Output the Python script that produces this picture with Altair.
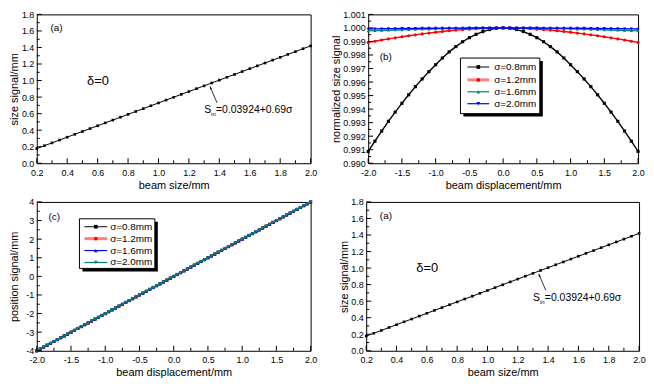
import altair as alt
import pandas as pd

FONT = "Liberation Sans"

# ---------------- data ----------------
beam_size = [0.20, 0.25, 0.30, 0.35, 0.40, 0.45, 0.50, 0.55, 0.60, 0.65, 0.70, 0.75,
             0.80, 0.85, 0.90, 0.95, 1.00, 1.05, 1.10, 1.15, 1.20, 1.25, 1.30, 1.35,
             1.40, 1.45, 1.50, 1.55, 1.60, 1.65, 1.70, 1.75, 1.80, 1.85, 1.90, 1.95, 2.00]
size_signal = [0.177, 0.212, 0.246, 0.281, 0.315, 0.350, 0.384, 0.419, 0.453, 0.488,
               0.522, 0.557, 0.591, 0.626, 0.660, 0.695, 0.729, 0.764, 0.798, 0.833,
               0.867, 0.902, 0.936, 0.971, 1.005, 1.040, 1.074, 1.109, 1.143, 1.178,
               1.212, 1.247, 1.281, 1.316, 1.350, 1.385, 1.419]

disp_b = [-2.0, -1.9, -1.8, -1.7, -1.6, -1.5, -1.4, -1.3, -1.2, -1.1, -1.0, -0.9, -0.8,
          -0.7, -0.6, -0.5, -0.4, -0.3, -0.2, -0.1, 0.0, 0.1, 0.2, 0.3, 0.4, 0.5, 0.6,
          0.7, 0.8, 0.9, 1.0, 1.1, 1.2, 1.3, 1.4, 1.5, 1.6, 1.7, 1.8, 1.9, 2.0]
norm_08 = [0.99087, 0.99163, 0.99238, 0.99310, 0.99378, 0.99443, 0.99506, 0.99566,
           0.99623, 0.99677, 0.99728, 0.99778, 0.99823, 0.99862, 0.99898, 0.99928,
           0.99953, 0.99973, 0.99988, 0.99997, 1.00000, 0.99997, 0.99988, 0.99973,
           0.99953, 0.99928, 0.99898, 0.99862, 0.99823, 0.99778, 0.99728, 0.99677,
           0.99623, 0.99566, 0.99506, 0.99443, 0.99378, 0.99310, 0.99238, 0.99163, 0.99087]
norm_12 = [0.99893, 0.99902, 0.99911, 0.99919, 0.99927, 0.99935, 0.99942, 0.99949,
           0.99956, 0.99962, 0.99968, 0.99974, 0.99979, 0.99984, 0.99988, 0.99991,
           0.99994, 0.99997, 0.99998, 1.00000, 1.00000, 1.00000, 0.99998, 0.99997,
           0.99994, 0.99991, 0.99988, 0.99984, 0.99979, 0.99974, 0.99968, 0.99962,
           0.99956, 0.99949, 0.99942, 0.99935, 0.99927, 0.99919, 0.99911, 0.99902, 0.99893]
norm_16 = [0.99978, 0.99980, 0.99981, 0.99983, 0.99985, 0.99986, 0.99988, 0.99989,
           0.99991, 0.99992, 0.99993, 0.99995, 0.99996, 0.99997, 0.99997, 0.99998,
           0.99999, 0.99999, 1.00000, 1.00000, 1.00000, 1.00000, 1.00000, 0.99999,
           0.99999, 0.99998, 0.99997, 0.99997, 0.99996, 0.99995, 0.99993, 0.99992,
           0.99991, 0.99989, 0.99988, 0.99986, 0.99985, 0.99983, 0.99981, 0.99980, 0.99978]
norm_20 = [0.99992, 0.99993, 0.99994, 0.99995, 0.99995, 0.99996, 0.99997, 0.99997,
           0.99998, 0.99998, 0.99998, 0.99999, 0.99999, 0.99999, 0.99999, 1.00000,
           1.00000, 1.00000, 1.00000, 1.00000, 1.00000, 1.00000, 1.00000, 1.00000,
           1.00000, 1.00000, 0.99999, 0.99999, 0.99999, 0.99999, 0.99998, 0.99998,
           0.99998, 0.99997, 0.99997, 0.99996, 0.99995, 0.99995, 0.99994, 0.99993, 0.99992]

disp_c = [-2.00, -1.95, -1.90, -1.85, -1.80, -1.75, -1.70, -1.65, -1.60, -1.55, -1.50,
          -1.45, -1.40, -1.35, -1.30, -1.25, -1.20, -1.15, -1.10, -1.05, -1.00, -0.95,
          -0.90, -0.85, -0.80, -0.75, -0.70, -0.65, -0.60, -0.55, -0.50, -0.45, -0.40,
          -0.35, -0.30, -0.25, -0.20, -0.15, -0.10, -0.05, 0.00, 0.05, 0.10, 0.15, 0.20,
          0.25, 0.30, 0.35, 0.40, 0.45, 0.50, 0.55, 0.60, 0.65, 0.70, 0.75, 0.80, 0.85,
          0.90, 0.95, 1.00, 1.05, 1.10, 1.15, 1.20, 1.25, 1.30, 1.35, 1.40, 1.45, 1.50,
          1.55, 1.60, 1.65, 1.70, 1.75, 1.80, 1.85, 1.90, 1.95, 2.00]
pos_signal = [-4.0, -3.9, -3.8, -3.7, -3.6, -3.5, -3.4, -3.3, -3.2, -3.1, -3.0, -2.9,
              -2.8, -2.7, -2.6, -2.5, -2.4, -2.3, -2.2, -2.1, -2.0, -1.9, -1.8, -1.7,
              -1.6, -1.5, -1.4, -1.3, -1.2, -1.1, -1.0, -0.9, -0.8, -0.7, -0.6, -0.5,
              -0.4, -0.3, -0.2, -0.1, 0.0, 0.1, 0.2, 0.3, 0.4, 0.5, 0.6, 0.7, 0.8, 0.9,
              1.0, 1.1, 1.2, 1.3, 1.4, 1.5, 1.6, 1.7, 1.8, 1.9, 2.0, 2.1, 2.2, 2.3, 2.4,
              2.5, 2.6, 2.7, 2.8, 2.9, 3.0, 3.1, 3.2, 3.3, 3.4, 3.5, 3.6, 3.7, 3.8, 3.9, 4.0]

sigma_labels = ["σ=0.8mm", "σ=1.2mm", "σ=1.6mm", "σ=2.0mm"]

a_xmajor = [0.2, 0.4, 0.6, 0.8, 1.0, 1.2, 1.4, 1.6, 1.8, 2.0]
a_xminor = [0.3, 0.5, 0.7, 0.9, 1.1, 1.3, 1.5, 1.7, 1.9]
a_ymajor = [0.0, 0.2, 0.4, 0.6, 0.8, 1.0, 1.2, 1.4, 1.6, 1.8]
a_yminor = [0.1, 0.3, 0.5, 0.7, 0.9, 1.1, 1.3, 1.5, 1.7]
d_xmajor = [-2.0, -1.5, -1.0, -0.5, 0.0, 0.5, 1.0, 1.5, 2.0]
d_xminor = [-1.75, -1.25, -0.75, -0.25, 0.25, 0.75, 1.25, 1.75]
b_ymajor = [0.990, 0.991, 0.992, 0.993, 0.994, 0.995, 0.996, 0.997, 0.998, 0.999, 1.000, 1.001]
b_yminor = [0.9905, 0.9915, 0.9925, 0.9935, 0.9945, 0.9955, 0.9965, 0.9975, 0.9985, 0.9995, 1.0005]
c_ymajor = [-4, -3, -2, -1, 0, 1, 2, 3, 4]
c_yminor = [-3.5, -2.5, -1.5, -0.5, 0.5, 1.5, 2.5, 3.5]

ONE = pd.DataFrame({"k": [0]})


def xaxis(title, values, fmt):
    return alt.Axis(title=title, values=values, format=fmt, labelOverlap=False,
                    labelFlush=False, labelPadding=5)


def yaxis(title, values, fmt, ext):
    return alt.Axis(title=title, values=values, format=fmt, labelOverlap=False,
                    labelFlush=False, minExtent=ext, maxExtent=ext)


class P:
    def __init__(self, xs, ys, xa, ya):
        self.xs, self.ys, self.xa, self.ya = xs, ys, xa, ya

    def X(self, f):
        return alt.X(f, scale=self.xs, axis=self.xa)

    def Y(self, f):
        return alt.Y(f, scale=self.ys, axis=self.ya)

    def XD(self, v):
        return alt.XDatum(v, scale=self.xs, axis=self.xa)

    def YD(self, v):
        return alt.YDatum(v, scale=self.ys, axis=self.ya)


def tick_layers(p, xmaj, xmin, ymaj, ymin, H):
    out = []
    for vals, ln in ((xmaj, 5), (xmin, 3)):
        out.append(alt.Chart(pd.DataFrame({"v": vals})).mark_rule(color="black", strokeWidth=1)
                   .encode(x=p.X("v:Q"), y=alt.value(H), y2=alt.value(H - ln)))
    for vals, ln in ((ymaj, 5), (ymin, 3)):
        out.append(alt.Chart(pd.DataFrame({"v": vals})).mark_rule(color="black", strokeWidth=1)
                   .encode(y=p.Y("v:Q"), x=alt.value(0), x2=alt.value(ln)))
    return out


def legend_layers(box, rows_y, lx0, lx1, tx, line_cols, line_ws, mk_cols, shapes):
    x0, y0, x1, y1 = box
    out = [
        alt.Chart(ONE).mark_rect(color="black").encode(
            x=alt.value(x0 + 3), x2=alt.value(x1 + 3), y=alt.value(y0 + 3), y2=alt.value(y1 + 3)),
        alt.Chart(ONE).mark_rect(fill="white", stroke="black", strokeWidth=1).encode(
            x=alt.value(x0), x2=alt.value(x1), y=alt.value(y0), y2=alt.value(y1)),
    ]
    for i, lab in enumerate(sigma_labels):
        yy = rows_y[i]
        out.append(alt.Chart(ONE).mark_rule(color=line_cols[i], strokeWidth=line_ws[i]).encode(
            x=alt.value(lx0), x2=alt.value(lx1), y=alt.value(yy)))
        out.append(alt.Chart(ONE).mark_point(shape=shapes[i], filled=True, color=mk_cols[i],
                                             size=14, opacity=1).encode(
            x=alt.value((lx0 + lx1) / 2), y=alt.value(yy)))
        out.append(alt.Chart(ONE).mark_text(align="left", baseline="middle", font=FONT,
                                            fontSize=10, color="black").encode(
            x=alt.value(tx), y=alt.value(yy), text=alt.value(lab)))
    return out


def text_at(p, x, y, txt, size=10, dx=0, dy=0):
    return alt.Chart(ONE).mark_text(align="left", baseline="middle", font=FONT, fontSize=size,
                                    color="black", dx=dx, dy=dy).encode(
        x=p.XD(x), y=p.YD(y), text=alt.value(txt))


def panel_size(W, H, yext):
    p = P(alt.Scale(domain=[0.2, 2.0], nice=False, zero=False),
          alt.Scale(domain=[0.0, 1.8], nice=False, zero=False),
          xaxis("beam size/mm", a_xmajor, ".1f"),
          yaxis("size signal/mm", a_ymajor, ".1f", yext))
    df = pd.DataFrame({"x": beam_size, "y": size_signal})
    base = alt.Chart(df).encode(x=p.X("x:Q"), y=p.Y("y:Q"))
    line = base.mark_line(color="black", strokeWidth=1)
    pts = base.mark_square(color="black", size=7, opacity=1)
    arrow = alt.Chart(ONE).mark_rule(color="black", strokeWidth=0.8).encode(
        x=p.XD(1.385), y=p.YD(0.73), x2=alt.X2Datum(1.338), y2=alt.Y2Datum(0.93))
    head = alt.Chart(ONE).mark_point(shape="M0,0L0.3,1L-0.3,1Z", filled=True, color="black",
                                     size=40, angle=338, opacity=1).encode(
        x=p.XD(1.338), y=p.YD(0.93))
    layers = [line, pts, arrow, head,
              text_at(p, 0.29, 1.63, "(a)", 10),
              text_at(p, 0.53, 1.0, "δ=0", 13),
              text_at(p, 1.30, 0.64, "S", 10.5),
              text_at(p, 1.30, 0.64, "in", 6, dx=7, dy=4),
              text_at(p, 1.30, 0.64, "=0.03924+0.69σ", 10.5, dx=12)]
    layers += tick_layers(p, a_xmajor, a_xminor, a_ymajor, a_yminor, H)
    return alt.layer(*layers).properties(width=W, height=H)


def series_layers(p, xs_vals, series, cols, shapes):
    out = []
    for lab, vals, col, shp in zip(sigma_labels, series, cols, shapes):
        df = pd.DataFrame({"x": xs_vals, "y": vals, "s": lab})
        base = alt.Chart(df).encode(x=p.X("x:Q"), y=p.Y("y:Q"))
        out.append(base.mark_line(color=col, strokeWidth=1.4))
        out.append(base.mark_point(shape=shp, filled=True, color=col, size=10, opacity=1))
    return out


def panel_b(W, H, yext):
    p = P(alt.Scale(domain=[-2.0, 2.0], nice=False, zero=False),
          alt.Scale(domain=[0.990, 1.001], nice=False, zero=False),
          xaxis("beam displacement/mm", d_xmajor, ".1f"),
          yaxis("normalized size signal", b_ymajor, ".3f", yext))
    cols = ["#000000", "#ff0000", "#008080", "#0000ff"]
    shapes = ["square", "circle", "triangle-up", "triangle-down"]
    layers = series_layers(p, disp_b, [norm_08, norm_12, norm_16, norm_20], cols, shapes)
    layers += [text_at(p, -1.83, 0.99787, "(b)", 10)]
    layers += tick_layers(p, d_xmajor, d_xminor, b_ymajor, b_yminor, H)
    layers += legend_layers((93, 44, 173, 100), [53, 66, 78, 90], 100, 122, 127,
                            ["#000000", "#ff8080", "#008080", "#0000ff"], [1, 3, 1.2, 1.2],
                            ["#000000", "#ff0000", "#008080", "#0000ff"], shapes)
    return alt.layer(*layers).properties(width=W, height=H)


def panel_c(W, H, yext):
    p = P(alt.Scale(domain=[-2.0, 2.0], nice=False, zero=False),
          alt.Scale(domain=[-4, 4], nice=False, zero=False),
          xaxis("beam displacement/mm", d_xmajor, ".1f"),
          yaxis("position signal/mm", c_ymajor, "d", yext))
    cols = ["#000000", "#ff0000", "#0000ff", "#008080"]
    shapes = ["square", "circle", "triangle-up", "triangle-down"]
    layers = series_layers(p, disp_c, [pos_signal, pos_signal, pos_signal, pos_signal],
                           cols, shapes)
    layers += [text_at(p, -1.83, 3.2, "(c)", 10)]
    layers += tick_layers(p, d_xmajor, d_xminor, c_ymajor, c_yminor, H)
    layers += legend_layers((43, 17, 119, 67), [25, 37, 49, 61], 48, 71, 74,
                            ["#000000", "#ff8080", "#0000ff", "#008080"], [1, 3, 1.2, 1.2],
                            ["#000000", "#ff0000", "#0000ff", "#008080"], shapes)
    return alt.layer(*layers).properties(width=W, height=H)


H = 150
row1 = alt.hconcat(panel_size(276, H, 15), panel_b(272, H, 25), spacing=12)
row2 = alt.hconcat(panel_c(276, H, 15), panel_size(275, H, 15), spacing=20)

chart = alt.vconcat(row1, row2, spacing=6).properties(padding=0).configure(
    locale={"number": {"decimal": ".", "thousands": ",", "grouping": [3],
                       "currency": ["$", ""], "minus": "-"}}
).configure_view(
    stroke="black", strokeWidth=1
).configure_axis(
    labelFont=FONT, titleFont=FONT, labelFontSize=9, titleFontSize=11,
    titleFontWeight="normal", labelColor="black", titleColor="black",
    grid=False, domain=False, ticks=False, labelPadding=3, titlePadding=2,
    labelFlush=False, labelOverlap=False
)

chart.save("out.html", embed_options={"renderer": "svg", "actions": False})
